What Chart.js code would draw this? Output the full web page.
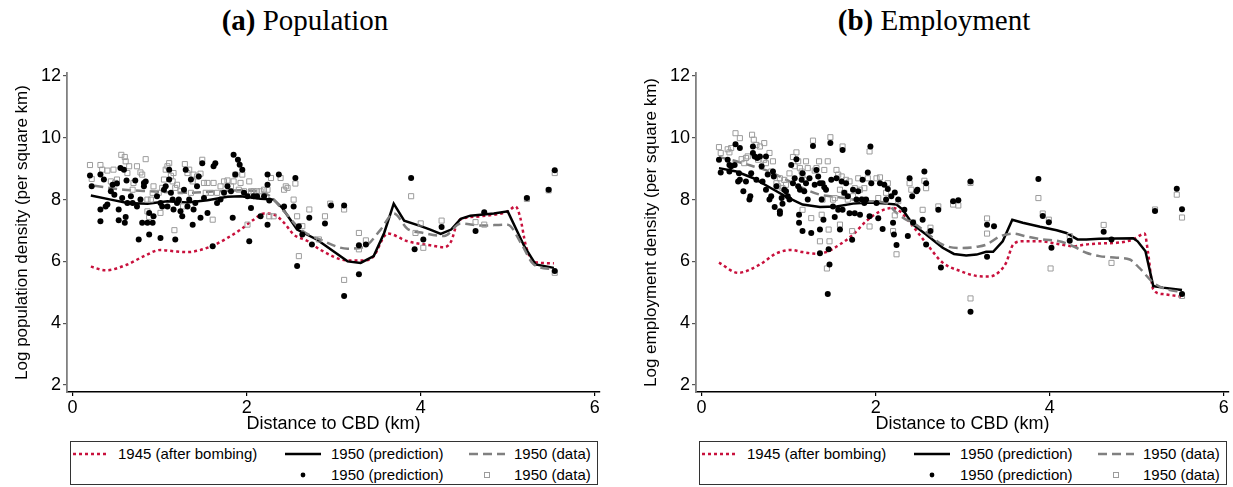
<!DOCTYPE html>
<html>
<head>
<meta charset="utf-8">
<script src="https://cdn.jsdelivr.net/npm/chart.js@4.4.0/dist/chart.umd.min.js"></script>
<style>
body { margin: 0; background: #fff; width: 1233px; height: 487px; overflow: hidden; position: relative;
       font-family: "Liberation Sans", Arial, sans-serif; color: #000; }
.panel { position: absolute; top: 0; width: 616px; height: 487px; }
.title { position: absolute; top: 3px; left: -3px; width: 616px; text-align: center; line-height: 34px;
         font-family: "Liberation Serif", "Times New Roman", serif; font-size: 29px; }
canvas { position: absolute; left: 0; top: 0; }
.legend { position: absolute; left: 70px; top: 441px; width: 528px; height: 44px;
          border: 1.5px solid #333; box-sizing: border-box; }
.item { position: absolute; font-size: 15px; line-height: 18px; white-space: nowrap; }
.item svg { position: absolute; }
</style>
</head>
<body>

<div class="panel" id="panelA" style="left:0">
  <div class="title"><b>(a)</b> Population</div>
  <canvas id="popChart" width="616" height="440"></canvas>
</div>
<div class="panel" id="panelB" style="left:629px">
  <div class="title"><b>(b)</b> Employment</div>
  <canvas id="empChart" width="616" height="440"></canvas>
</div>

<script>
// ---- Population panel ----
const popDist1945 = [0.21, 0.38, 0.63, 0.82, 1.01, 1.16, 1.32, 1.47, 1.62, 1.78, 1.93, 2.08, 2.20, 2.31, 2.43, 2.54, 2.70, 2.85, 3.16, 3.35, 3.46, 3.58, 3.62, 3.85, 4.11, 4.27, 4.35, 4.42, 4.48, 4.69, 5.00, 5.09, 5.14, 5.21, 5.30, 5.53];
const popDens1945 = [5.83, 5.71, 5.90, 6.17, 6.37, 6.33, 6.30, 6.37, 6.52, 6.76, 7.03, 7.35, 7.55, 7.52, 7.25, 6.87, 6.66, 6.37, 6.03, 6.03, 6.17, 6.81, 6.90, 6.65, 6.52, 6.46, 6.65, 7.25, 7.38, 7.46, 7.62, 7.78, 7.46, 6.49, 5.98, 5.94];

const popDistPred = [0.21, 0.44, 0.63, 0.86, 1.09, 1.32, 1.55, 1.78, 1.93, 2.16, 2.31, 2.41, 2.58, 2.81, 3.16, 3.31, 3.46, 3.58, 3.69, 3.81, 4.00, 4.11, 4.23, 4.35, 4.46, 4.57, 4.84, 5.00, 5.19, 5.32, 5.53];
const popDensPred = [8.13, 8.00, 7.89, 7.87, 7.95, 7.91, 7.98, 8.09, 8.11, 8.03, 8.00, 7.73, 7.03, 6.70, 6.00, 5.95, 6.17, 6.92, 7.87, 7.32, 7.14, 7.03, 6.89, 7.03, 7.38, 7.48, 7.55, 7.62, 6.49, 5.90, 5.79];

const popDistData = [0.25, 0.59, 0.90, 1.28, 1.66, 1.93, 2.24, 2.43, 2.62, 2.85, 3.16, 3.35, 3.54, 3.69, 3.85, 4.03, 4.27, 4.46, 4.69, 5.00, 5.15, 5.30, 5.53];
const popDensData = [8.45, 8.32, 8.27, 8.22, 8.27, 8.30, 8.16, 7.62, 7.03, 6.70, 6.41, 6.47, 7.03, 7.55, 7.05, 6.92, 6.82, 7.23, 7.16, 7.19, 6.60, 5.90, 5.74];

const popPredDots = [[0.20,8.78],[0.22,8.43],[0.32,8.81],[0.32,7.68],[0.32,7.30],[0.36,8.65],[0.38,7.78],[0.40,7.84],[0.44,8.27],[0.46,8.48],[0.48,8.16],[0.51,8.52],[0.53,7.68],[0.53,7.33],[0.55,9.02],[0.57,8.05],[0.59,8.97],[0.60,7.25],[0.61,7.44],[0.62,8.62],[0.63,7.89],[0.67,8.11],[0.69,7.89],[0.72,8.62],[0.74,7.78],[0.76,6.71],[0.78,8.00],[0.80,7.25],[0.82,8.54],[0.82,8.43],[0.84,8.59],[0.86,7.25],[0.88,6.87],[0.88,7.57],[0.92,7.25],[0.93,7.46],[0.97,8.11],[1.01,6.76],[1.01,7.89],[1.03,7.78],[1.05,8.32],[1.07,8.43],[1.09,7.78],[1.11,8.65],[1.11,8.97],[1.13,8.22],[1.15,8.00],[1.16,7.68],[1.18,6.71],[1.20,7.89],[1.22,8.00],[1.24,7.62],[1.26,7.46],[1.28,8.32],[1.30,8.97],[1.32,7.78],[1.34,8.00],[1.36,8.65],[1.38,7.19],[1.39,7.68],[1.41,7.89],[1.43,8.43],[1.45,8.75],[1.47,7.41],[1.49,9.18],[1.51,8.05],[1.55,7.57],[1.61,6.49],[1.62,9.08],[1.64,9.18],[1.66,7.89],[1.70,8.00],[1.74,8.22],[1.78,8.43],[1.82,8.27],[1.84,7.41],[1.85,9.45],[1.87,8.81],[1.90,9.29],[1.92,9.13],[1.95,8.97],[1.97,8.22],[2.01,8.11],[2.03,6.65],[2.05,7.73],[2.08,8.11],[2.12,8.11],[2.16,7.46],[2.20,8.11],[2.24,8.81],[2.24,8.48],[2.24,7.19],[2.26,7.97],[2.37,8.81],[2.43,7.78],[2.54,7.78],[2.56,8.70],[2.58,5.85],[2.60,7.14],[2.64,6.87],[2.72,7.41],[2.75,6.55],[2.90,7.23],[2.97,7.81],[3.12,7.81],[3.12,4.88],[3.29,6.52],[3.37,6.55],[3.29,5.58],[3.89,8.70],[3.93,6.39],[4.03,6.71],[4.24,7.11],[4.63,6.98],[4.73,7.59],[5.22,8.05],[5.47,8.32],[5.54,8.95],[5.54,5.69]];

const popDataSquares = [[0.20,9.12],[0.32,9.12],[0.22,8.67],[0.34,8.97],[0.40,8.94],[0.44,8.59],[0.47,8.97],[0.49,8.54],[0.51,8.65],[0.56,9.45],[0.60,9.38],[0.61,9.24],[0.63,8.86],[0.65,9.08],[0.69,8.32],[0.70,8.54],[0.74,9.08],[0.78,8.88],[0.80,8.81],[0.84,9.31],[0.86,8.00],[0.86,7.62],[0.88,7.44],[0.90,8.00],[0.92,8.22],[0.93,8.43],[0.99,8.22],[1.01,7.57],[1.03,8.38],[1.05,8.65],[1.07,8.97],[1.09,9.08],[1.11,9.18],[1.13,8.77],[1.15,8.59],[1.16,8.86],[1.17,7.01],[1.18,8.38],[1.20,8.48],[1.22,7.95],[1.24,8.27],[1.27,7.78],[1.29,9.15],[1.32,8.86],[1.34,8.97],[1.36,8.22],[1.38,8.59],[1.39,8.81],[1.43,8.75],[1.47,8.84],[1.49,9.29],[1.51,8.54],[1.53,8.22],[1.55,8.54],[1.59,8.22],[1.61,7.35],[1.62,8.54],[1.66,8.22],[1.70,8.43],[1.74,8.59],[1.78,8.62],[1.82,8.43],[1.85,8.59],[1.87,8.81],[1.91,8.32],[1.93,8.54],[1.95,8.81],[1.97,8.27],[2.01,7.19],[2.03,8.59],[2.05,8.27],[2.08,8.27],[2.12,8.27],[2.16,8.27],[2.20,8.32],[2.24,8.32],[2.26,7.46],[2.28,8.70],[2.31,7.46],[2.39,8.70],[2.43,8.32],[2.45,8.43],[2.47,8.38],[2.54,8.00],[2.56,8.52],[2.58,7.46],[2.60,6.17],[2.64,7.14],[2.72,7.68],[2.83,6.71],[2.90,7.46],[2.96,7.87],[3.12,7.68],[3.12,5.40],[3.29,6.92],[3.29,6.39],[3.37,6.68],[3.89,8.11],[4.00,7.23],[3.94,6.92],[4.03,6.44],[4.24,7.32],[4.63,7.27],[4.73,7.19],[5.22,8.02],[5.47,8.30],[5.54,8.86],[5.54,5.63]];

// ---- Employment panel ----
const empDist1945 = [0.20, 0.42, 0.67, 0.86, 1.03, 1.16, 1.32, 1.43, 1.59, 1.74, 1.89, 2.05, 2.20, 2.28, 2.43, 2.58, 2.77, 2.97, 3.16, 3.31, 3.43, 3.50, 3.58, 3.69, 3.89, 4.08, 4.27, 4.42, 4.58, 4.77, 4.96, 5.09, 5.13, 5.19, 5.30, 5.51];
const empDens1945 = [5.96, 5.63, 5.90, 6.26, 6.37, 6.30, 6.25, 6.30, 6.55, 6.87, 7.30, 7.62, 7.73, 7.62, 7.13, 6.59, 5.96, 5.69, 5.53, 5.51, 5.69, 5.96, 6.54, 6.65, 6.65, 6.57, 6.49, 6.55, 6.58, 6.60, 6.71, 6.90, 6.28, 5.09, 4.94, 4.86];

const empDistPred = [0.20, 0.40, 0.59, 0.78, 0.97, 1.16, 1.36, 1.55, 1.74, 1.93, 2.12, 2.24, 2.31, 2.43, 2.58, 2.77, 2.90, 3.04, 3.16, 3.27, 3.35, 3.46, 3.57, 3.69, 3.89, 4.08, 4.19, 4.32, 4.42, 4.57, 4.77, 4.96, 5.01, 5.10, 5.19, 5.30, 5.52];
const empDensPred = [9.02, 8.91, 8.70, 8.40, 8.10, 7.84, 7.76, 7.78, 7.87, 7.91, 7.87, 7.84, 7.68, 7.19, 6.87, 6.44, 6.24, 6.19, 6.22, 6.31, 6.31, 6.65, 7.35, 7.25, 7.12, 7.01, 6.92, 6.71, 6.71, 6.73, 6.74, 6.75, 6.65, 6.33, 5.20, 5.15, 5.07];

const empDistData = [0.20, 0.40, 0.59, 0.78, 0.97, 1.16, 1.36, 1.55, 1.74, 1.93, 2.12, 2.24, 2.35, 2.43, 2.58, 2.77, 2.97, 3.16, 3.27, 3.43, 3.58, 3.73, 3.92, 4.11, 4.27, 4.42, 4.57, 4.77, 4.92, 5.03, 5.19, 5.34, 5.52];
const empDensData = [9.38, 9.24, 9.08, 8.91, 8.65, 8.38, 8.16, 8.09, 8.00, 7.95, 7.89, 7.57, 7.35, 7.25, 6.94, 6.54, 6.43, 6.47, 6.54, 6.81, 6.90, 6.81, 6.71, 6.65, 6.49, 6.28, 6.17, 6.12, 6.06, 5.79, 5.31, 5.10, 5.01];

const empPredDots = [[0.20,9.29],[0.22,8.88],[0.30,9.29],[0.32,8.91],[0.32,9.12],[0.34,9.08],[0.38,9.12],[0.39,9.79],[0.42,8.59],[0.43,8.85],[0.44,8.64],[0.44,9.67],[0.48,8.27],[0.51,8.59],[0.55,8.00],[0.56,8.11],[0.57,8.85],[0.59,9.72],[0.59,9.51],[0.61,9.40],[0.63,8.64],[0.64,9.35],[0.67,9.40],[0.69,9.08],[0.70,8.59],[0.74,9.40],[0.74,8.32],[0.76,8.81],[0.78,8.00],[0.80,8.11],[0.82,8.91],[0.83,8.75],[0.84,7.76],[0.86,8.43],[0.90,7.62],[0.90,7.54],[0.92,8.05],[0.93,7.87],[0.95,8.32],[0.97,8.27],[0.99,8.11],[1.01,8.00],[1.03,9.12],[1.05,8.53],[1.07,8.69],[1.09,9.31],[1.11,8.43],[1.12,7.51],[1.12,7.25],[1.13,8.32],[1.15,8.64],[1.16,6.98],[1.16,8.85],[1.18,8.27],[1.20,8.53],[1.22,8.00],[1.24,8.69],[1.26,6.92],[1.28,9.74],[1.30,8.48],[1.32,8.96],[1.34,8.75],[1.36,8.53],[1.36,7.03],[1.36,6.26],[1.38,8.00],[1.39,8.53],[1.40,7.35],[1.41,8.40],[1.43,8.32],[1.45,4.94],[1.46,6.39],[1.47,5.90],[1.48,9.83],[1.49,8.64],[1.51,7.78],[1.53,7.44],[1.55,8.69],[1.57,7.67],[1.59,7.03],[1.61,8.59],[1.62,9.61],[1.62,7.67],[1.64,8.22],[1.66,8.53],[1.68,8.11],[1.70,7.56],[1.73,6.70],[1.74,8.32],[1.76,7.56],[1.78,8.00],[1.80,8.27],[1.82,7.51],[1.84,8.00],[1.85,8.64],[1.87,7.89],[1.89,8.00],[1.91,8.88],[1.93,7.46],[1.94,9.72],[1.95,8.53],[2.01,7.89],[2.03,7.40],[2.05,8.53],[2.08,7.05],[2.10,8.48],[2.12,8.00],[2.14,8.34],[2.18,8.11],[2.20,7.25],[2.21,6.87],[2.22,8.23],[2.24,6.53],[2.26,8.00],[2.33,7.67],[2.37,6.82],[2.39,8.69],[2.42,8.11],[2.43,7.26],[2.47,8.27],[2.48,8.32],[2.54,7.35],[2.56,8.91],[2.58,8.53],[2.58,6.55],[2.63,6.98],[2.72,7.67],[2.75,5.80],[2.89,7.95],[2.95,7.98],[3.09,8.59],[3.09,4.37],[3.28,7.19],[3.36,7.14],[3.28,6.15],[3.87,8.67],[3.92,7.47],[3.99,7.27],[4.02,6.44],[4.23,6.67],[4.62,6.96],[4.71,6.71],[5.21,7.63],[5.46,8.35],[5.52,7.69],[5.52,4.94]];

const empDataSquares = [[0.20,9.70],[0.22,9.51],[0.30,9.63],[0.32,9.53],[0.34,9.67],[0.39,10.15],[0.44,9.99],[0.46,9.31],[0.49,9.18],[0.51,9.35],[0.53,9.40],[0.58,10.10],[0.60,9.94],[0.63,9.77],[0.65,9.29],[0.67,9.72],[0.72,9.83],[0.72,9.29],[0.74,9.18],[0.78,9.51],[0.80,8.91],[0.82,9.24],[0.86,8.53],[0.88,8.43],[0.90,8.69],[0.93,8.37],[0.95,8.64],[0.97,8.48],[1.01,8.85],[1.05,9.38],[1.07,9.08],[1.09,9.53],[1.11,9.24],[1.13,9.02],[1.15,8.91],[1.16,8.81],[1.16,7.67],[1.18,8.64],[1.20,9.24],[1.22,9.02],[1.26,7.40],[1.28,9.91],[1.30,8.94],[1.32,9.02],[1.35,9.24],[1.36,6.65],[1.38,7.51],[1.39,8.00],[1.41,8.96],[1.44,5.77],[1.45,9.24],[1.46,7.03],[1.47,6.65],[1.48,10.02],[1.51,8.00],[1.53,8.05],[1.55,8.96],[1.57,8.81],[1.59,7.19],[1.59,8.32],[1.61,8.75],[1.62,9.72],[1.64,8.22],[1.66,8.64],[1.68,8.00],[1.70,8.59],[1.73,6.98],[1.74,8.11],[1.76,8.37],[1.80,8.69],[1.82,8.32],[1.85,8.00],[1.87,8.37],[1.91,8.69],[1.93,9.56],[1.93,7.13],[2.01,8.69],[2.03,8.05],[2.05,8.72],[2.12,8.22],[2.14,8.53],[2.20,6.98],[2.22,7.49],[2.24,6.23],[2.26,7.95],[2.39,8.53],[2.41,8.32],[2.43,7.26],[2.54,7.67],[2.56,8.61],[2.58,8.37],[2.63,7.09],[2.72,7.78],[2.89,7.84],[2.95,7.81],[3.09,8.54],[3.09,4.80],[3.28,7.39],[3.28,6.90],[3.87,8.05],[3.92,7.55],[3.99,7.35],[4.01,5.77],[4.23,6.82],[4.62,7.18],[4.71,5.95],[5.21,7.68],[5.46,8.16],[5.52,7.42],[5.52,4.88]];

const xTicks = [0, 2, 4, 6];
const yTicks = [2, 4, 6, 8, 10, 12];
const legendLabels = ["1945 (after bombing)", "1950 (prediction)", "1950 (data)", "1950 (prediction)", "1950 (data)"];

const RED = "#c8103c";
const GREY = "#808080";
const SQUARE_GREY = "#9c9c9c";

function toPoints(xs, ys) {
    return xs.map((x, i) => ({ x: x, y: ys[i] }));
}
function pairsToPoints(pairs) {
    return pairs.map(p => ({ x: p[0], y: p[1] }));
}

function buildDatasets(d1945x, d1945y, predX, predY, dataX, dataY, dots, squares) {
    return [
        { type: "line", label: legendLabels[0], data: toPoints(d1945x, d1945y), borderColor: RED,
          borderWidth: 2.5, borderDash: [3, 3], pointRadius: 0, cubicInterpolationMode: "monotone", order: 4 },
        { type: "line", label: legendLabels[1], data: toPoints(predX, predY), borderColor: "#000",
          borderWidth: 2.5, pointRadius: 0, tension: 0, order: 3 },
        { type: "line", label: legendLabels[2], data: toPoints(dataX, dataY), borderColor: GREY,
          borderWidth: 2.5, borderDash: [9, 5], pointRadius: 0, cubicInterpolationMode: "monotone", order: 2 },
        { type: "scatter", label: legendLabels[3], data: pairsToPoints(dots), backgroundColor: "#000",
          borderWidth: 0, pointRadius: 3.0, order: 0 },
        { type: "scatter", label: legendLabels[4], data: pairsToPoints(squares), backgroundColor: "rgba(0,0,0,0)",
          borderColor: SQUARE_GREY, borderWidth: 1, pointStyle: "rect", pointRadius: 3.6, order: 1 }
    ];
}

function makeChart(canvasId, datasets, yTitle) {
    const ctx = document.getElementById(canvasId).getContext("2d");
    return new Chart(ctx, {
        type: "line",
        data: { datasets: datasets },
        options: {
            responsive: false,
            animation: false,
            layout: { padding: { top: 73, right: 16, left: 0, bottom: 0 } },
            plugins: { legend: { display: false }, tooltip: { enabled: false } },
            scales: {
                x: {
                    type: "linear", min: -0.064, max: 6.06,
                    afterBuildTicks: s => { s.ticks = xTicks.map(v => ({ value: v })); },
                    afterFit: s => { s.height = 48; },
                    ticks: { font: { size: 18, family: "Liberation Sans" }, color: "#000", padding: 1, maxRotation: 0 },
                    grid: { drawOnChartArea: false, drawTicks: true, tickLength: 4, color: "#000", lineWidth: 1.2 },
                    border: { display: true, color: "#000", width: 1.5 },
                    title: { display: true, text: "Distance to CBD (km)", color: "#000",
                             font: { size: 18, family: "Liberation Sans" }, padding: { top: 0, bottom: 5 } }
                },
                y: {
                    type: "linear", min: 1.77, max: 12.1,
                    afterBuildTicks: s => { s.ticks = yTicks.map(v => ({ value: v })); },
                    afterFit: s => { s.width = 67; },
                    ticks: { font: { size: 18, family: "Liberation Sans" }, color: "#000", padding: 2 },
                    grid: { drawOnChartArea: false, drawTicks: true, tickLength: 4, color: "#555", lineWidth: 1.2 },
                    border: { display: true, color: GREY, width: 1.8 },
                    title: { display: true, text: yTitle, color: "#000",
                             font: { size: 17, family: "Liberation Sans" }, padding: { top: 12, bottom: 0 } }
                }
            }
        }
    });
}

function buildLegend(panelId) {
    const box = document.createElement("div");
    box.className = "legend";
    const items = [
        { left: 2, top: 3, kind: "dot1945", text: legendLabels[0], textLeft: 47 },
        { left: 214, top: 3, kind: "solid", text: legendLabels[1], textLeft: 260 },
        { left: 398, top: 3, kind: "dash", text: legendLabels[2], textLeft: 443 },
        { left: 214, top: 24, kind: "dot", text: legendLabels[3], textLeft: 260 },
        { left: 398, top: 24, kind: "square", text: legendLabels[4], textLeft: 443 }
    ];
    items.forEach(it => {
        let svg = "";
        if (it.kind === "dot1945") svg = `<line x1="0" y1="9" x2="36" y2="9" stroke="${RED}" stroke-width="2.5" stroke-dasharray="3,3"/>`;
        if (it.kind === "solid") svg = `<line x1="0" y1="9" x2="36" y2="9" stroke="#000" stroke-width="2.5"/>`;
        if (it.kind === "dash") svg = `<line x1="0" y1="9" x2="36" y2="9" stroke="${GREY}" stroke-width="2.5" stroke-dasharray="9,5"/>`;
        if (it.kind === "dot") svg = `<circle cx="18" cy="9" r="2.4" fill="#000"/>`;
        if (it.kind === "square") svg = `<rect x="15.5" y="6.5" width="5" height="5" fill="none" stroke="${SQUARE_GREY}" stroke-width="1"/>`;
        const el = document.createElement("div");
        el.className = "item";
        el.style.left = it.left + "px";
        el.style.top = it.top + "px";
        el.style.width = "300px";
        el.style.height = "18px";
        el.innerHTML = `<svg width="36" height="18" style="left:0;top:0">${svg}</svg>` +
            `<span style="position:absolute;left:${it.textLeft - it.left}px;top:0">${it.text}</span>`;
        box.appendChild(el);
    });
    document.getElementById(panelId).appendChild(box);
}

makeChart("popChart",
    buildDatasets(popDist1945, popDens1945, popDistPred, popDensPred, popDistData, popDensData, popPredDots, popDataSquares),
    "Log population density (per square km)");
makeChart("empChart",
    buildDatasets(empDist1945, empDens1945, empDistPred, empDensPred, empDistData, empDensData, empPredDots, empDataSquares),
    "Log employment density (per square km)");
buildLegend("panelA");
buildLegend("panelB");
</script>
</body>
</html>
